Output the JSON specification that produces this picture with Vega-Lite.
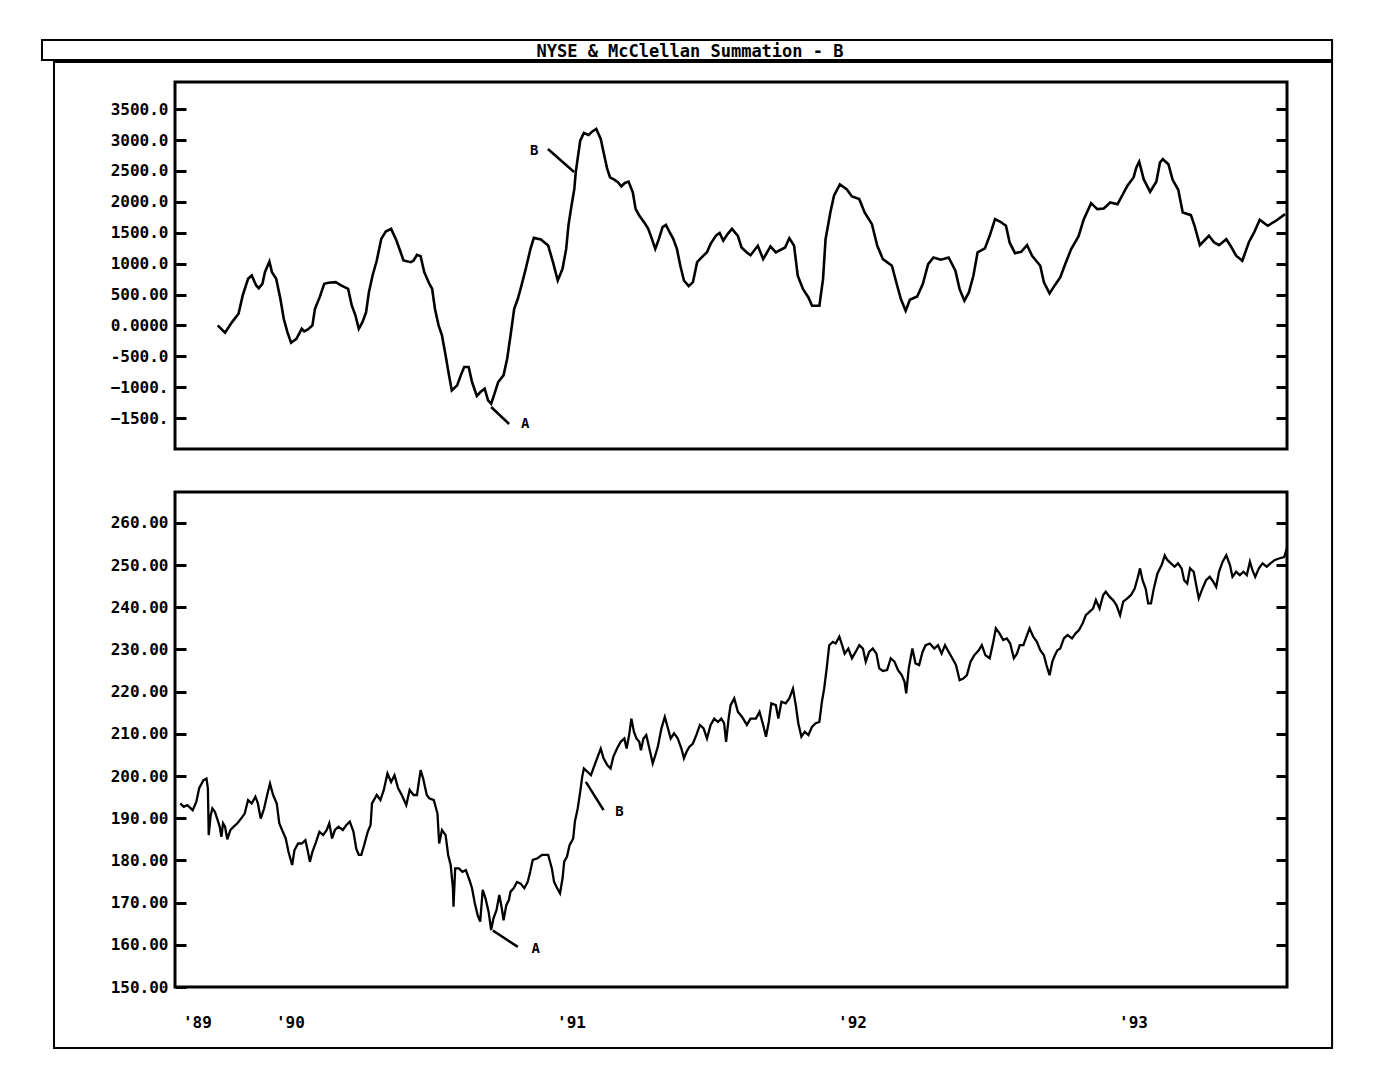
{
  "$schema": "https://vega.github.io/schema/vega-lite/v6.json",
  "background": "white",
  "padding": {"left": 39, "top": 37, "right": 5, "bottom": 5},
  "bounds": "flush",
  "spacing": 43,
  "config": {
    "view": {"stroke": "black", "strokeWidth": 3},
    "font": "DejaVu Sans Mono",
    "axis": {"grid": false, "domain": false, "title": null, "labelFont": "DejaVu Sans Mono", "labelFontWeight": "bold", "labelFontSize": 16, "labelColor": "black", "tickColor": "black", "tickWidth": 3, "labelOverlap": false, "labelFlush": false}
  },
  "datasets": {
    "summation": [
      {"year": 1989.743, "summation": 0}, {"year": 1989.769, "summation": -119}, {"year": 1989.794, "summation": 54}, {"year": 1989.817, "summation": 189}, {"year": 1989.832, "summation": 485}, {"year": 1989.851, "summation": 754}, {"year": 1989.864, "summation": 808}, {"year": 1989.880, "summation": 647}, {"year": 1989.889, "summation": 603}, {"year": 1989.902, "summation": 674}, {"year": 1989.911, "summation": 862}, {"year": 1989.927, "summation": 1034}, {"year": 1989.936, "summation": 862}, {"year": 1989.951, "summation": 754}, {"year": 1989.966, "summation": 431}, {"year": 1989.978, "summation": 108}, {"year": 1989.991, "summation": -108},
      {"year": 1990.004, "summation": -280}, {"year": 1990.023, "summation": -216}, {"year": 1990.042, "summation": -54}, {"year": 1990.051, "summation": -97}, {"year": 1990.064, "summation": -65}, {"year": 1990.080, "summation": 0}, {"year": 1990.089, "summation": 269}, {"year": 1990.106, "summation": 458}, {"year": 1990.122, "summation": 674}, {"year": 1990.137, "summation": 690}, {"year": 1990.163, "summation": 700}, {"year": 1990.182, "summation": 647}, {"year": 1990.207, "summation": 593}, {"year": 1990.220, "summation": 323}, {"year": 1990.233, "summation": 162}, {"year": 1990.245, "summation": -54}, {"year": 1990.258, "summation": 54}, {"year": 1990.271, "summation": 216}, {"year": 1990.281, "summation": 539}, {"year": 1990.294, "summation": 808}, {"year": 1990.309, "summation": 1051}, {"year": 1990.325, "summation": 1401}, {"year": 1990.341, "summation": 1519}, {"year": 1990.360, "summation": 1563}, {"year": 1990.379, "summation": 1374}, {"year": 1990.394, "summation": 1185}, {"year": 1990.404, "summation": 1051}, {"year": 1990.430, "summation": 1024}, {"year": 1990.440, "summation": 1051}, {"year": 1990.452, "summation": 1142}, {"year": 1990.465, "summation": 1121}, {"year": 1990.478, "summation": 862}, {"year": 1990.496, "summation": 674}, {"year": 1990.506, "summation": 593}, {"year": 1990.516, "summation": 269}, {"year": 1990.529, "summation": 0}, {"year": 1990.541, "summation": -162}, {"year": 1990.554, "summation": -485}, {"year": 1990.566, "summation": -808}, {"year": 1990.576, "summation": -1051}, {"year": 1990.595, "summation": -970}, {"year": 1990.608, "summation": -808}, {"year": 1990.620, "summation": -674}, {"year": 1990.636, "summation": -674}, {"year": 1990.648, "summation": -916}, {"year": 1990.665, "summation": -1142}, {"year": 1990.678, "summation": -1078}, {"year": 1990.693, "summation": -1024}, {"year": 1990.705, "summation": -1212}, {"year": 1990.716, "summation": -1266}, {"year": 1990.728, "summation": -1105}, {"year": 1990.741, "summation": -916}, {"year": 1990.760, "summation": -808}, {"year": 1990.773, "summation": -539}, {"year": 1990.785, "summation": -162}, {"year": 1990.798, "summation": 269}, {"year": 1990.811, "summation": 431}, {"year": 1990.824, "summation": 647}, {"year": 1990.839, "summation": 916}, {"year": 1990.856, "summation": 1239}, {"year": 1990.868, "summation": 1417}, {"year": 1990.893, "summation": 1390}, {"year": 1990.919, "summation": 1293}, {"year": 1990.936, "summation": 1024}, {"year": 1990.953, "summation": 727}, {"year": 1990.970, "summation": 916}, {"year": 1990.983, "summation": 1239}, {"year": 1990.991, "summation": 1616},
      {"year": 1991.001, "summation": 1913}, {"year": 1991.012, "summation": 2209}, {"year": 1991.017, "summation": 2478}, {"year": 1991.027, "summation": 2802}, {"year": 1991.033, "summation": 2990}, {"year": 1991.046, "summation": 3114}, {"year": 1991.063, "summation": 3082}, {"year": 1991.075, "summation": 3136}, {"year": 1991.090, "summation": 3179}, {"year": 1991.106, "summation": 3017}, {"year": 1991.116, "summation": 2802}, {"year": 1991.129, "summation": 2532}, {"year": 1991.139, "summation": 2398}, {"year": 1991.154, "summation": 2360}, {"year": 1991.167, "summation": 2317}, {"year": 1991.179, "summation": 2252}, {"year": 1991.192, "summation": 2306}, {"year": 1991.205, "summation": 2328}, {"year": 1991.220, "summation": 2155}, {"year": 1991.230, "summation": 1886}, {"year": 1991.243, "summation": 1778}, {"year": 1991.262, "summation": 1660}, {"year": 1991.275, "summation": 1563}, {"year": 1991.288, "summation": 1401}, {"year": 1991.300, "summation": 1239}, {"year": 1991.313, "summation": 1401}, {"year": 1991.326, "summation": 1590}, {"year": 1991.338, "summation": 1627}, {"year": 1991.351, "summation": 1509}, {"year": 1991.364, "summation": 1401}, {"year": 1991.377, "summation": 1239}, {"year": 1991.389, "summation": 970}, {"year": 1991.402, "summation": 727}, {"year": 1991.419, "summation": 636}, {"year": 1991.434, "summation": 700}, {"year": 1991.449, "summation": 1024}, {"year": 1991.466, "summation": 1105}, {"year": 1991.484, "summation": 1185}, {"year": 1991.497, "summation": 1320}, {"year": 1991.516, "summation": 1455}, {"year": 1991.529, "summation": 1498}, {"year": 1991.542, "summation": 1374}, {"year": 1991.558, "summation": 1482}, {"year": 1991.573, "summation": 1563}, {"year": 1991.594, "summation": 1451}, {"year": 1991.607, "summation": 1262}, {"year": 1991.626, "summation": 1181}, {"year": 1991.639, "summation": 1137}, {"year": 1991.665, "summation": 1290}, {"year": 1991.684, "summation": 1073}, {"year": 1991.710, "summation": 1278}, {"year": 1991.729, "summation": 1181}, {"year": 1991.762, "summation": 1262}, {"year": 1991.777, "summation": 1413}, {"year": 1991.794, "summation": 1290}, {"year": 1991.807, "summation": 804}, {"year": 1991.826, "summation": 587}, {"year": 1991.845, "summation": 453}, {"year": 1991.858, "summation": 319}, {"year": 1991.884, "summation": 319}, {"year": 1991.897, "summation": 749}, {"year": 1991.906, "summation": 1396}, {"year": 1991.923, "summation": 1828}, {"year": 1991.936, "summation": 2099}, {"year": 1991.957, "summation": 2281}, {"year": 1991.981, "summation": 2205},
      {"year": 1992.000, "summation": 2087}, {"year": 1992.026, "summation": 2044}, {"year": 1992.045, "summation": 1828}, {"year": 1992.071, "summation": 1639}, {"year": 1992.090, "summation": 1290}, {"year": 1992.110, "summation": 1073}, {"year": 1992.142, "summation": 966}, {"year": 1992.161, "summation": 642}, {"year": 1992.174, "summation": 426}, {"year": 1992.191, "summation": 238}, {"year": 1992.206, "summation": 416}, {"year": 1992.232, "summation": 469}, {"year": 1992.252, "summation": 668}, {"year": 1992.271, "summation": 992}, {"year": 1992.290, "summation": 1100}, {"year": 1992.316, "summation": 1063}, {"year": 1992.344, "summation": 1100}, {"year": 1992.368, "summation": 885}, {"year": 1992.383, "summation": 587}, {"year": 1992.400, "summation": 400}, {"year": 1992.416, "summation": 534}, {"year": 1992.432, "summation": 804}, {"year": 1992.447, "summation": 1181}, {"year": 1992.473, "summation": 1246}, {"year": 1992.490, "summation": 1451}, {"year": 1992.509, "summation": 1720}, {"year": 1992.528, "summation": 1678}, {"year": 1992.548, "summation": 1613}, {"year": 1992.561, "summation": 1343}, {"year": 1992.580, "summation": 1170}, {"year": 1992.602, "summation": 1192}, {"year": 1992.623, "summation": 1299}, {"year": 1992.641, "summation": 1128}, {"year": 1992.670, "summation": 966}, {"year": 1992.683, "summation": 696}, {"year": 1992.703, "summation": 518}, {"year": 1992.722, "summation": 652}, {"year": 1992.741, "summation": 777}, {"year": 1992.761, "summation": 1019}, {"year": 1992.780, "summation": 1235}, {"year": 1992.806, "summation": 1440}, {"year": 1992.825, "summation": 1720}, {"year": 1992.851, "summation": 1979}, {"year": 1992.873, "summation": 1882}, {"year": 1992.896, "summation": 1893}, {"year": 1992.919, "summation": 1990}, {"year": 1992.945, "summation": 1963}, {"year": 1992.961, "summation": 2099}, {"year": 1992.980, "summation": 2260},
      {"year": 1993.002, "summation": 2395}, {"year": 1993.012, "summation": 2556}, {"year": 1993.022, "summation": 2649}, {"year": 1993.038, "summation": 2367}, {"year": 1993.061, "summation": 2163}, {"year": 1993.083, "summation": 2325}, {"year": 1993.096, "summation": 2637}, {"year": 1993.106, "summation": 2691}, {"year": 1993.126, "summation": 2610}, {"year": 1993.141, "summation": 2357}, {"year": 1993.161, "summation": 2196}, {"year": 1993.177, "summation": 1828}, {"year": 1993.206, "summation": 1785}, {"year": 1993.219, "summation": 1613}, {"year": 1993.238, "summation": 1299}, {"year": 1993.270, "summation": 1451}, {"year": 1993.289, "summation": 1343}, {"year": 1993.306, "summation": 1299}, {"year": 1993.332, "summation": 1396}, {"year": 1993.347, "summation": 1290}, {"year": 1993.367, "summation": 1128}, {"year": 1993.389, "summation": 1047}, {"year": 1993.412, "summation": 1343}, {"year": 1993.431, "summation": 1505}, {"year": 1993.451, "summation": 1710}, {"year": 1993.479, "summation": 1613}, {"year": 1993.509, "summation": 1694}, {"year": 1993.541, "summation": 1801}
    ],
    "nyse": [
      {"year": 1989.610, "nyse": 193.5}, {"year": 1989.622, "nyse": 192.7}, {"year": 1989.635, "nyse": 193.1}, {"year": 1989.654, "nyse": 191.9}, {"year": 1989.667, "nyse": 193.9}, {"year": 1989.677, "nyse": 197.1}, {"year": 1989.692, "nyse": 199.0}, {"year": 1989.703, "nyse": 199.4}, {"year": 1989.708, "nyse": 197.1}, {"year": 1989.711, "nyse": 186.0}, {"year": 1989.718, "nyse": 190.7}, {"year": 1989.724, "nyse": 192.3}, {"year": 1989.733, "nyse": 191.5}, {"year": 1989.741, "nyse": 189.9}, {"year": 1989.750, "nyse": 188.0}, {"year": 1989.756, "nyse": 185.6}, {"year": 1989.762, "nyse": 188.8}, {"year": 1989.769, "nyse": 188.0}, {"year": 1989.777, "nyse": 185.0}, {"year": 1989.788, "nyse": 187.2}, {"year": 1989.800, "nyse": 188.0}, {"year": 1989.813, "nyse": 188.8}, {"year": 1989.826, "nyse": 189.9}, {"year": 1989.839, "nyse": 191.1}, {"year": 1989.851, "nyse": 194.3}, {"year": 1989.864, "nyse": 193.5}, {"year": 1989.877, "nyse": 195.1}, {"year": 1989.886, "nyse": 193.5}, {"year": 1989.896, "nyse": 189.9}, {"year": 1989.908, "nyse": 192.3}, {"year": 1989.919, "nyse": 195.5}, {"year": 1989.929, "nyse": 198.2}, {"year": 1989.940, "nyse": 195.5}, {"year": 1989.953, "nyse": 193.5}, {"year": 1989.962, "nyse": 188.8}, {"year": 1989.972, "nyse": 187.2}, {"year": 1989.985, "nyse": 185.2}, {"year": 1989.995, "nyse": 182.0},
      {"year": 1990.008, "nyse": 178.9}, {"year": 1990.016, "nyse": 182.4}, {"year": 1990.029, "nyse": 184.0}, {"year": 1990.042, "nyse": 184.0}, {"year": 1990.055, "nyse": 184.8}, {"year": 1990.063, "nyse": 182.4}, {"year": 1990.071, "nyse": 179.7}, {"year": 1990.080, "nyse": 182.0}, {"year": 1990.093, "nyse": 184.4}, {"year": 1990.105, "nyse": 186.8}, {"year": 1990.118, "nyse": 186.0}, {"year": 1990.131, "nyse": 187.2}, {"year": 1990.140, "nyse": 188.8}, {"year": 1990.150, "nyse": 185.2}, {"year": 1990.160, "nyse": 187.2}, {"year": 1990.173, "nyse": 188.0}, {"year": 1990.188, "nyse": 187.2}, {"year": 1990.201, "nyse": 188.4}, {"year": 1990.213, "nyse": 189.2}, {"year": 1990.226, "nyse": 186.8}, {"year": 1990.236, "nyse": 182.8}, {"year": 1990.245, "nyse": 181.3}, {"year": 1990.254, "nyse": 181.3}, {"year": 1990.264, "nyse": 183.6}, {"year": 1990.277, "nyse": 186.8}, {"year": 1990.287, "nyse": 188.4}, {"year": 1990.292, "nyse": 193.5}, {"year": 1990.309, "nyse": 195.5}, {"year": 1990.322, "nyse": 194.3}, {"year": 1990.334, "nyse": 196.7}, {"year": 1990.347, "nyse": 200.6}, {"year": 1990.360, "nyse": 198.6}, {"year": 1990.372, "nyse": 200.2}, {"year": 1990.385, "nyse": 197.1}, {"year": 1990.398, "nyse": 195.5}, {"year": 1990.414, "nyse": 193.1}, {"year": 1990.426, "nyse": 196.7}, {"year": 1990.440, "nyse": 195.5}, {"year": 1990.452, "nyse": 195.5}, {"year": 1990.465, "nyse": 201.4}, {"year": 1990.474, "nyse": 199.4}, {"year": 1990.487, "nyse": 195.5}, {"year": 1990.496, "nyse": 194.7}, {"year": 1990.512, "nyse": 194.3}, {"year": 1990.525, "nyse": 191.1}, {"year": 1990.531, "nyse": 184.0}, {"year": 1990.541, "nyse": 187.2}, {"year": 1990.554, "nyse": 186.0}, {"year": 1990.563, "nyse": 181.3}, {"year": 1990.572, "nyse": 178.9}, {"year": 1990.580, "nyse": 173.4}, {"year": 1990.582, "nyse": 169.0}, {"year": 1990.588, "nyse": 178.1}, {"year": 1990.601, "nyse": 178.1}, {"year": 1990.614, "nyse": 177.3}, {"year": 1990.626, "nyse": 177.7}, {"year": 1990.639, "nyse": 175.3}, {"year": 1990.648, "nyse": 173.4}, {"year": 1990.658, "nyse": 169.8}, {"year": 1990.668, "nyse": 167.0}, {"year": 1990.677, "nyse": 165.5}, {"year": 1990.686, "nyse": 173.0}, {"year": 1990.696, "nyse": 171.0}, {"year": 1990.707, "nyse": 167.8}, {"year": 1990.716, "nyse": 163.5}, {"year": 1990.724, "nyse": 166.2}, {"year": 1990.735, "nyse": 168.2}, {"year": 1990.745, "nyse": 171.8}, {"year": 1990.754, "nyse": 168.6}, {"year": 1990.760, "nyse": 165.8}, {"year": 1990.770, "nyse": 169.4}, {"year": 1990.779, "nyse": 170.6}, {"year": 1990.785, "nyse": 172.6}, {"year": 1990.796, "nyse": 173.4}, {"year": 1990.808, "nyse": 174.9}, {"year": 1990.821, "nyse": 174.5}, {"year": 1990.834, "nyse": 173.4}, {"year": 1990.846, "nyse": 174.9}, {"year": 1990.855, "nyse": 177.3}, {"year": 1990.864, "nyse": 180.1}, {"year": 1990.881, "nyse": 180.5}, {"year": 1990.897, "nyse": 181.3}, {"year": 1990.919, "nyse": 181.3}, {"year": 1990.932, "nyse": 178.1}, {"year": 1990.940, "nyse": 174.9}, {"year": 1990.951, "nyse": 173.4}, {"year": 1990.961, "nyse": 172.2}, {"year": 1990.970, "nyse": 175.7}, {"year": 1990.976, "nyse": 179.7}, {"year": 1990.986, "nyse": 180.9}, {"year": 1990.995, "nyse": 183.6},
      {"year": 1991.008, "nyse": 185.2}, {"year": 1991.014, "nyse": 189.2}, {"year": 1991.024, "nyse": 192.3}, {"year": 1991.033, "nyse": 196.3}, {"year": 1991.040, "nyse": 199.8}, {"year": 1991.046, "nyse": 201.8}, {"year": 1991.059, "nyse": 201.0}, {"year": 1991.071, "nyse": 200.2}, {"year": 1991.084, "nyse": 202.6}, {"year": 1991.097, "nyse": 204.9}, {"year": 1991.106, "nyse": 206.5}, {"year": 1991.116, "nyse": 204.2}, {"year": 1991.129, "nyse": 202.6}, {"year": 1991.141, "nyse": 201.8}, {"year": 1991.151, "nyse": 204.6}, {"year": 1991.164, "nyse": 206.5}, {"year": 1991.177, "nyse": 208.1}, {"year": 1991.190, "nyse": 208.9}, {"year": 1991.198, "nyse": 206.5}, {"year": 1991.207, "nyse": 209.7}, {"year": 1991.215, "nyse": 213.6}, {"year": 1991.224, "nyse": 210.5}, {"year": 1991.233, "nyse": 208.9}, {"year": 1991.243, "nyse": 208.1}, {"year": 1991.249, "nyse": 206.1}, {"year": 1991.258, "nyse": 208.9}, {"year": 1991.268, "nyse": 209.7}, {"year": 1991.279, "nyse": 206.5}, {"year": 1991.291, "nyse": 203.0}, {"year": 1991.300, "nyse": 204.9}, {"year": 1991.309, "nyse": 206.9}, {"year": 1991.322, "nyse": 211.3}, {"year": 1991.334, "nyse": 214.0}, {"year": 1991.345, "nyse": 211.3}, {"year": 1991.355, "nyse": 208.9}, {"year": 1991.367, "nyse": 210.1}, {"year": 1991.380, "nyse": 208.9}, {"year": 1991.393, "nyse": 206.5}, {"year": 1991.402, "nyse": 204.2}, {"year": 1991.411, "nyse": 205.7}, {"year": 1991.421, "nyse": 206.9}, {"year": 1991.434, "nyse": 207.7}, {"year": 1991.446, "nyse": 209.7}, {"year": 1991.459, "nyse": 212.1}, {"year": 1991.472, "nyse": 211.3}, {"year": 1991.484, "nyse": 208.9}, {"year": 1991.497, "nyse": 212.1}, {"year": 1991.510, "nyse": 213.6}, {"year": 1991.523, "nyse": 212.8}, {"year": 1991.535, "nyse": 213.6}, {"year": 1991.545, "nyse": 212.5}, {"year": 1991.552, "nyse": 208.1}, {"year": 1991.561, "nyse": 213.6}, {"year": 1991.568, "nyse": 216.8}, {"year": 1991.581, "nyse": 218.4}, {"year": 1991.594, "nyse": 215.2}, {"year": 1991.609, "nyse": 214.0}, {"year": 1991.626, "nyse": 212.1}, {"year": 1991.639, "nyse": 213.6}, {"year": 1991.658, "nyse": 213.6}, {"year": 1991.671, "nyse": 215.2}, {"year": 1991.684, "nyse": 212.1}, {"year": 1991.694, "nyse": 209.3}, {"year": 1991.704, "nyse": 212.8}, {"year": 1991.713, "nyse": 217.2}, {"year": 1991.729, "nyse": 216.8}, {"year": 1991.738, "nyse": 213.6}, {"year": 1991.749, "nyse": 217.6}, {"year": 1991.764, "nyse": 217.2}, {"year": 1991.777, "nyse": 218.4}, {"year": 1991.790, "nyse": 220.7}, {"year": 1991.800, "nyse": 216.8}, {"year": 1991.809, "nyse": 212.5}, {"year": 1991.820, "nyse": 209.3}, {"year": 1991.832, "nyse": 210.5}, {"year": 1991.845, "nyse": 209.7}, {"year": 1991.858, "nyse": 211.7}, {"year": 1991.871, "nyse": 212.5}, {"year": 1991.884, "nyse": 212.8}, {"year": 1991.893, "nyse": 217.6}, {"year": 1991.901, "nyse": 220.7}, {"year": 1991.910, "nyse": 225.5}, {"year": 1991.919, "nyse": 231.0}, {"year": 1991.932, "nyse": 231.8}, {"year": 1991.942, "nyse": 231.4}, {"year": 1991.955, "nyse": 233.0}, {"year": 1991.965, "nyse": 231.0}, {"year": 1991.974, "nyse": 229.0}, {"year": 1991.987, "nyse": 230.2},
      {"year": 1992.000, "nyse": 227.9}, {"year": 1992.013, "nyse": 229.4}, {"year": 1992.026, "nyse": 231.0}, {"year": 1992.039, "nyse": 230.2}, {"year": 1992.049, "nyse": 227.1}, {"year": 1992.061, "nyse": 229.4}, {"year": 1992.074, "nyse": 230.2}, {"year": 1992.087, "nyse": 229.0}, {"year": 1992.097, "nyse": 225.5}, {"year": 1992.110, "nyse": 224.9}, {"year": 1992.125, "nyse": 225.1}, {"year": 1992.138, "nyse": 227.9}, {"year": 1992.151, "nyse": 227.1}, {"year": 1992.164, "nyse": 225.1}, {"year": 1992.177, "nyse": 223.9}, {"year": 1992.187, "nyse": 222.3}, {"year": 1992.193, "nyse": 219.6}, {"year": 1992.202, "nyse": 225.5}, {"year": 1992.215, "nyse": 230.2}, {"year": 1992.226, "nyse": 226.7}, {"year": 1992.239, "nyse": 226.3}, {"year": 1992.251, "nyse": 229.4}, {"year": 1992.262, "nyse": 231.0}, {"year": 1992.277, "nyse": 231.4}, {"year": 1992.293, "nyse": 230.2}, {"year": 1992.306, "nyse": 231.0}, {"year": 1992.319, "nyse": 229.0}, {"year": 1992.331, "nyse": 231.0}, {"year": 1992.344, "nyse": 229.4}, {"year": 1992.357, "nyse": 227.9}, {"year": 1992.370, "nyse": 226.3}, {"year": 1992.383, "nyse": 222.7}, {"year": 1992.396, "nyse": 223.1}, {"year": 1992.409, "nyse": 223.9}, {"year": 1992.422, "nyse": 227.1}, {"year": 1992.435, "nyse": 228.6}, {"year": 1992.451, "nyse": 229.8}, {"year": 1992.462, "nyse": 231.0}, {"year": 1992.475, "nyse": 228.6}, {"year": 1992.490, "nyse": 227.9}, {"year": 1992.503, "nyse": 231.8}, {"year": 1992.512, "nyse": 235.0}, {"year": 1992.525, "nyse": 233.8}, {"year": 1992.538, "nyse": 232.2}, {"year": 1992.551, "nyse": 232.6}, {"year": 1992.563, "nyse": 231.4}, {"year": 1992.576, "nyse": 227.9}, {"year": 1992.587, "nyse": 229.0}, {"year": 1992.597, "nyse": 231.0}, {"year": 1992.610, "nyse": 231.0}, {"year": 1992.623, "nyse": 233.4}, {"year": 1992.632, "nyse": 235.0}, {"year": 1992.645, "nyse": 233.0}, {"year": 1992.658, "nyse": 231.8}, {"year": 1992.670, "nyse": 229.8}, {"year": 1992.683, "nyse": 228.6}, {"year": 1992.692, "nyse": 226.3}, {"year": 1992.703, "nyse": 223.9}, {"year": 1992.713, "nyse": 227.1}, {"year": 1992.722, "nyse": 228.6}, {"year": 1992.731, "nyse": 229.8}, {"year": 1992.741, "nyse": 230.2}, {"year": 1992.754, "nyse": 232.6}, {"year": 1992.767, "nyse": 233.4}, {"year": 1992.783, "nyse": 232.6}, {"year": 1992.796, "nyse": 233.8}, {"year": 1992.808, "nyse": 234.6}, {"year": 1992.821, "nyse": 236.2}, {"year": 1992.832, "nyse": 238.1}, {"year": 1992.845, "nyse": 238.9}, {"year": 1992.858, "nyse": 239.7}, {"year": 1992.868, "nyse": 241.7}, {"year": 1992.881, "nyse": 239.7}, {"year": 1992.894, "nyse": 242.9}, {"year": 1992.903, "nyse": 243.7}, {"year": 1992.916, "nyse": 242.5}, {"year": 1992.929, "nyse": 241.7}, {"year": 1992.941, "nyse": 240.5}, {"year": 1992.954, "nyse": 238.1}, {"year": 1992.965, "nyse": 241.3}, {"year": 1992.980, "nyse": 242.1}, {"year": 1992.993, "nyse": 242.9},
      {"year": 1993.006, "nyse": 244.4}, {"year": 1993.016, "nyse": 246.8}, {"year": 1993.025, "nyse": 249.2}, {"year": 1993.034, "nyse": 246.4}, {"year": 1993.045, "nyse": 244.4}, {"year": 1993.054, "nyse": 240.9}, {"year": 1993.064, "nyse": 240.9}, {"year": 1993.074, "nyse": 244.4}, {"year": 1993.087, "nyse": 248.0}, {"year": 1993.102, "nyse": 250.0}, {"year": 1993.113, "nyse": 252.3}, {"year": 1993.122, "nyse": 251.2}, {"year": 1993.135, "nyse": 250.4}, {"year": 1993.148, "nyse": 249.6}, {"year": 1993.160, "nyse": 250.4}, {"year": 1993.173, "nyse": 249.2}, {"year": 1993.182, "nyse": 246.4}, {"year": 1993.193, "nyse": 245.6}, {"year": 1993.203, "nyse": 249.2}, {"year": 1993.216, "nyse": 248.4}, {"year": 1993.225, "nyse": 245.2}, {"year": 1993.234, "nyse": 242.1}, {"year": 1993.247, "nyse": 244.4}, {"year": 1993.260, "nyse": 246.4}, {"year": 1993.273, "nyse": 247.2}, {"year": 1993.286, "nyse": 246.0}, {"year": 1993.296, "nyse": 244.8}, {"year": 1993.306, "nyse": 248.4}, {"year": 1993.319, "nyse": 250.8}, {"year": 1993.332, "nyse": 252.3}, {"year": 1993.345, "nyse": 250.0}, {"year": 1993.354, "nyse": 247.2}, {"year": 1993.367, "nyse": 248.4}, {"year": 1993.380, "nyse": 247.6}, {"year": 1993.393, "nyse": 248.4}, {"year": 1993.405, "nyse": 247.6}, {"year": 1993.416, "nyse": 250.8}, {"year": 1993.425, "nyse": 248.8}, {"year": 1993.435, "nyse": 247.2}, {"year": 1993.448, "nyse": 249.2}, {"year": 1993.461, "nyse": 250.4}, {"year": 1993.476, "nyse": 249.6}, {"year": 1993.489, "nyse": 250.4}, {"year": 1993.505, "nyse": 251.2}, {"year": 1993.522, "nyse": 251.6}, {"year": 1993.538, "nyse": 251.9}, {"year": 1993.548, "nyse": 254.0}
    ],
    "sumNotes": [
      {"label": "B", "year": 1990.918, "value": 2856, "year2": 1991.011, "value2": 2483, "labelYear": 1990.869, "labelValue": 2823},
      {"label": "A", "year": 1990.716, "value": -1320, "year2": 1990.780, "value2": -1595, "labelYear": 1990.837, "labelValue": -1595}
    ],
    "nyseNotes": [
      {"label": "B", "year": 1991.053, "value": 198.6, "year2": 1991.116, "value2": 191.9, "labelYear": 1991.173, "labelValue": 191.5},
      {"label": "A", "year": 1990.722, "value": 163.4, "year2": 1990.811, "value2": 159.5, "labelYear": 1990.875, "labelValue": 159.1}
    ]
  },
  "vconcat": [
    {
      "width": 1112,
      "height": 367,
      "resolve": {"axis": {"y": "independent"}},
      "layer": [
        {
          "data": {"name": "summation"},
          "mark": {"type": "line", "color": "black", "strokeWidth": 2.6},
          "encoding": {
            "x": {"field": "year", "type": "quantitative", "scale": {"domain": [1989.591, 1993.548], "nice": false, "zero": false}, "axis": null},
            "y": {"field": "summation", "type": "quantitative", "scale": {"domain": [-2000, 3940], "nice": false, "zero": false},
                  "axis": {"orient": "left", "values": [-1500, -1000, -500, 0, 500, 1000, 1500, 2000, 2500, 3000, 3500], "tickSize": -11, "labelPadding": 18,
                           "labelExpr": "datum.value >= 1000 ? format(datum.value, '.1f') : datum.value == 500 ? '500.00' : datum.value == 0 ? '0.0000' : datum.value == -500 ? '-500.0' : format(datum.value, 'd') + '.'"}}
          }
        },
        {
          "data": {"name": "sumNotes"},
          "mark": {"type": "rule", "color": "black", "strokeWidth": 2.5},
          "encoding": {
            "x": {"field": "year", "type": "quantitative", "scale": {"domain": [1989.591, 1993.548], "nice": false, "zero": false}, "axis": null},
            "x2": {"field": "year2"},
            "y": {"field": "value", "type": "quantitative", "scale": {"domain": [-2000, 3940], "nice": false, "zero": false},
                  "axis": {"orient": "right", "values": [-1500, -1000, -500, 0, 500, 1000, 1500, 2000, 2500, 3000, 3500], "tickSize": -11, "labels": false}},
            "y2": {"field": "value2"}
          }
        },
        {
          "data": {"name": "sumNotes"},
          "mark": {"type": "text", "font": "DejaVu Sans Mono", "fontWeight": "bold", "fontSize": 14, "color": "black", "align": "center", "baseline": "middle"},
          "encoding": {
            "x": {"field": "labelYear", "type": "quantitative", "scale": {"domain": [1989.591, 1993.548], "nice": false, "zero": false}, "axis": null},
            "y": {"field": "labelValue", "type": "quantitative", "scale": {"domain": [-2000, 3940], "nice": false, "zero": false}, "axis": null},
            "text": {"field": "label"}
          }
        },
        {
          "data": {"values": [{"part": "title bar"}]},
          "mark": {"type": "rect", "filled": false, "color": "black", "strokeWidth": 2, "clip": false},
          "encoding": {
            "x": {"datum": 1989.1177, "type": "quantitative", "scale": {"domain": [1989.591, 1993.548], "nice": false, "zero": false}, "axis": null},
            "x2": {"datum": 1993.7084},
            "y": {"datum": 4619.8, "type": "quantitative", "scale": {"domain": [-2000, 3940], "nice": false, "zero": false}, "axis": null},
            "y2": {"datum": 4296.1}
          }
        },
        {
          "data": {"values": [{"part": "frame"}]},
          "mark": {"type": "rect", "filled": false, "color": "black", "strokeWidth": 2, "clip": false},
          "encoding": {
            "x": {"datum": 1989.1604, "type": "quantitative", "scale": {"domain": [1989.591, 1993.548], "nice": false, "zero": false}, "axis": null},
            "x2": {"datum": 1993.7084},
            "y": {"datum": 4263.7, "type": "quantitative", "scale": {"domain": [-2000, 3940], "nice": false, "zero": false}, "axis": null},
            "y2": {"datum": -11694.7}
          }
        },
        {
          "data": {"values": [{"title": "NYSE & McClellan Summation - B"}]},
          "mark": {"type": "text", "font": "DejaVu Sans Mono", "fontWeight": "bold", "fontSize": 17, "color": "black", "align": "center", "baseline": "middle", "clip": false},
          "encoding": {
            "x": {"datum": 1991.4235, "type": "quantitative", "scale": {"domain": [1989.591, 1993.548], "nice": false, "zero": false}, "axis": null},
            "y": {"datum": 4425.6, "type": "quantitative", "scale": {"domain": [-2000, 3940], "nice": false, "zero": false}, "axis": null},
            "text": {"field": "title"}
          }
        }
      ]
    },
    {
      "width": 1112,
      "height": 495,
      "resolve": {"axis": {"y": "independent"}},
      "layer": [
        {
          "data": {"name": "nyse"},
          "mark": {"type": "line", "color": "black", "strokeWidth": 2.3},
          "encoding": {
            "x": {"field": "year", "type": "quantitative", "scale": {"domain": [1989.591, 1993.548], "nice": false, "zero": false},
                  "axis": {"orient": "bottom", "values": [1989.669, 1990, 1991, 1992, 1993], "ticks": false, "labelPadding": 27,
                           "labelExpr": "datum.value < 1990 ? \"'89\" : \"'\" + substring(toString(round(datum.value)), 2, 4)"}},
            "y": {"field": "nyse", "type": "quantitative", "scale": {"domain": [150, 267.3], "nice": false, "zero": false},
                  "axis": {"orient": "left", "values": [150, 160, 170, 180, 190, 200, 210, 220, 230, 240, 250, 260], "tickSize": -11, "labelPadding": 18, "format": ".2f"}}
          }
        },
        {
          "data": {"name": "nyseNotes"},
          "mark": {"type": "rule", "color": "black", "strokeWidth": 2.5},
          "encoding": {
            "x": {"field": "year", "type": "quantitative", "scale": {"domain": [1989.591, 1993.548], "nice": false, "zero": false}},
            "x2": {"field": "year2"},
            "y": {"field": "value", "type": "quantitative", "scale": {"domain": [150, 267.3], "nice": false, "zero": false},
                  "axis": {"orient": "right", "values": [160, 170, 180, 190, 200, 210, 220, 230, 240, 250, 260], "tickSize": -11, "labels": false}},
            "y2": {"field": "value2"}
          }
        },
        {
          "data": {"name": "nyseNotes"},
          "mark": {"type": "text", "font": "DejaVu Sans Mono", "fontWeight": "bold", "fontSize": 14, "color": "black", "align": "center", "baseline": "middle"},
          "encoding": {
            "x": {"field": "labelYear", "type": "quantitative", "scale": {"domain": [1989.591, 1993.548], "nice": false, "zero": false}},
            "y": {"field": "labelValue", "type": "quantitative", "scale": {"domain": [150, 267.3], "nice": false, "zero": false}, "axis": null},
            "text": {"field": "label"}
          }
        }
      ]
    }
  ]
}
